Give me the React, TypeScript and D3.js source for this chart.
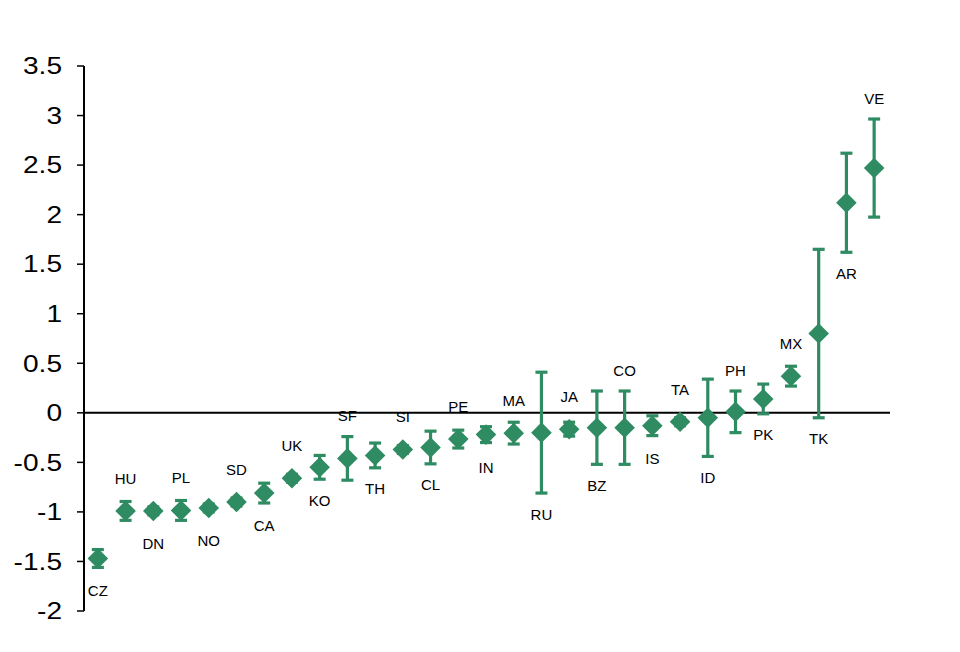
import { scaleLinear, scaleBand, symbol, symbolDiamond2 } from 'd3';

// Country codes, ordered as in the chart
const countries = [
    'CZ', 'HU', 'DN', 'PL', 'NO', 'SD', 'CA', 'UK', 'KO', 'SF',
    'TH', 'SI', 'CL', 'PE', 'IN', 'MA', 'RU', 'JA', 'BZ', 'CO',
    'IS', 'TA', 'ID', 'PH', 'PK', 'MX', 'TK', 'AR', 'VE',
];
// Point estimates
const values = [
    -1.47, -0.99, -0.99, -0.985, -0.96, -0.9, -0.81, -0.66, -0.55, -0.46,
    -0.43, -0.37, -0.35, -0.265, -0.22, -0.205, -0.2, -0.165, -0.15, -0.15,
    -0.13, -0.09, -0.05, 0.01, 0.14, 0.37, 0.8, 2.12, 2.47,
];
// Half-width of the error bars
const errors = [
    0.09, 0.095, 0.04, 0.1, 0.04, 0.04, 0.1, 0.04, 0.12, 0.22,
    0.125, 0.04, 0.165, 0.09, 0.08, 0.11, 0.61, 0.07, 0.37, 0.37,
    0.1, 0.04, 0.39, 0.21, 0.15, 0.1, 0.85, 0.5, 0.495,
];
// Which side the country label sits on
const labelSide = [
    'below', 'above', 'below', 'above', 'below', 'above', 'below', 'above', 'below', 'above',
    'below', 'above', 'below', 'above', 'below', 'above', 'below', 'above', 'below', 'above',
    'below', 'above', 'below', 'above', 'below', 'above', 'below', 'below', 'above',
];
const yTicks = [3.5, 3, 2.5, 2, 1.5, 1, 0.5, 0, -0.5, -1, -1.5, -2];

function App() {
    // Set dimensions
    const width = 960;
    const height = 652;
    const left = 84;
    const right = 888;
    const top = 66;
    const bottom = 611;
    const green = '#2E8B62';
    const font = '"Liberation Sans", Arial, sans-serif';

    // Set scales
    const y = scaleLinear().domain([-2, 3.5]).range([bottom, top]);
    const x = scaleBand<string>().domain(countries).range([left, right]);
    const diamond = symbol().type(symbolDiamond2).size(270)();
    const half = 11.5;
    const cap = 6;
    const gap = 21;

    return (
        <svg
            width={width}
            height={height}
            viewBox={`0 0 ${width} ${height}`}
            style={{ position: 'absolute', left: 0, top: 0, background: '#fff' }}
        >
            {/* Y axis */}
            <line x1={left} x2={left} y1={top} y2={bottom} stroke="#000" strokeWidth={2} />
            {yTicks.map((t) => (
                <g key={t}>
                    <line x1={left - 7} x2={left} y1={y(t)} y2={y(t)} stroke="#000" strokeWidth={1.5} />
                    {/* the original labels are a bit wider than Liberation Sans */}
                    <text
                        transform={`translate(62,${y(t)}) scale(1.17,1)`}
                        textAnchor="end"
                        dominantBaseline="central"
                        fontFamily={font}
                        fontSize={24}
                        fill="#000"
                    >
                        {String(t)}
                    </text>
                </g>
            ))}

            {/* Zero line */}
            <line x1={left} x2={890} y1={y(0)} y2={y(0)} stroke="#000" strokeWidth={2} />

            {countries.map((c, i) => {
                const cx = (x(c) ?? 0) + x.bandwidth() / 2;
                const cy = y(values[i]);
                const yHi = y(values[i] + errors[i]);
                const yLo = y(values[i] - errors[i]);
                const labelY =
                    labelSide[i] === 'above'
                        ? Math.min(yHi, cy - half) - gap
                        : Math.max(yLo, cy + half) + gap;
                return (
                    <g key={c}>
                        {/* Error bar */}
                        <line x1={cx} x2={cx} y1={yHi} y2={yLo} stroke={green} strokeWidth={3.2} />
                        <line x1={cx - cap} x2={cx + cap} y1={yHi} y2={yHi} stroke={green} strokeWidth={3.2} />
                        <line x1={cx - cap} x2={cx + cap} y1={yLo} y2={yLo} stroke={green} strokeWidth={3.2} />
                        {/* Marker */}
                        <path d={diamond} transform={`translate(${cx},${cy})`} fill={green} />
                        {/* Country label */}
                        <text
                            x={cx}
                            y={labelY}
                            textAnchor="middle"
                            dominantBaseline="central"
                            fontFamily={font}
                            fontSize={15}
                            fill="#000"
                        >
                            {c}
                        </text>
                    </g>
                );
            })}
        </svg>
    );
}

export default App;
